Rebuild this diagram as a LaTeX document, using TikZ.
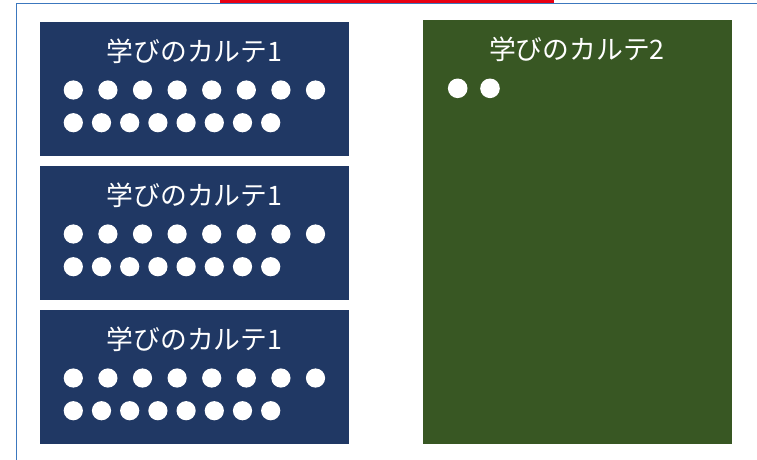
\documentclass[tikz,border=0pt]{standalone}
\usepackage{fontspec}
\newfontfamily\jpfont{Noto Sans CJK JP}
\definecolor{navy}{RGB}{32,56,100}
\definecolor{darkgreen}{RGB}{56,87,35}
\definecolor{frameblue}{RGB}{60,120,190}
\definecolor{topred}{RGB}{232,0,18}
\tikzset{
  card/.style={fill=#1, draw=none},
  cardtitle/.style={text=white, font=\jpfont\fontsize{26.8}{30}\selectfont, inner sep=0pt, anchor=center},
  dot/.style={fill=white}
}
\begin{document}
\begin{tikzpicture}[x=1pt,y=-1pt]
\useasboundingbox (0,0) rectangle (757,459);
\fill[white] (0,0) rectangle (757,459);
% outer frame
\draw[frameblue, line width=1.2pt] (16.5,470) -- (16.5,3.5) -- (770,3.5);
\fill[topred] (220,0) rectangle (554,3.2);
% left cards
\foreach \k/\dy in {1/0,2/144,3/288}{
  \fill[navy] (40,22+\dy) rectangle (349,156+\dy);
  \node[cardtitle] (t\k) at (194.5,51+\dy) {学びのカルテ1};
  \foreach \i in {0,...,7}{
    \fill[white] (73.3+34.6*\i,90+\dy) circle (9.6);
    \fill[white] (73.3+28.2*\i,122.7+\dy) circle (9.6);
  }
}
% right card
\fill[darkgreen] (423,20) rectangle (732,444);
\node[cardtitle] (t4) at (577,49) {学びのカルテ2};
\fill[white] (457.7,88.3) circle (9.8);
\fill[white] (490,88.3) circle (9.8);
\end{tikzpicture}
\end{document}
